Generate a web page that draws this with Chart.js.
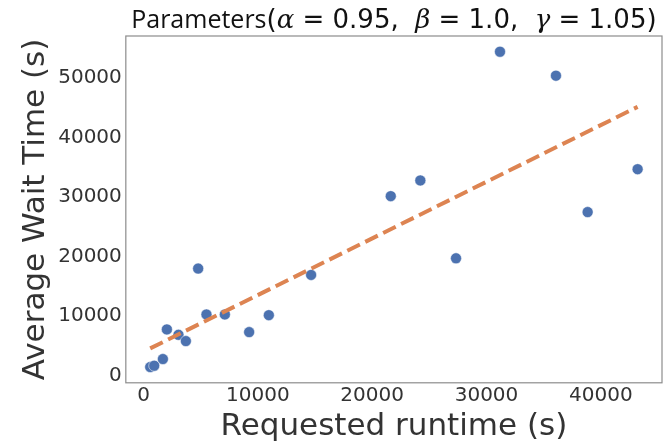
<!DOCTYPE html>
<html>
<head>
<meta charset="utf-8">
<script src="https://cdn.jsdelivr.net/npm/chart.js@4"></script>
<style>
  html, body { margin: 0; padding: 0; background: #fff; }
  #wrap { width: 664px; height: 447px; }
</style>
</head>
<body>
<div id="wrap"><canvas id="chart" width="664" height="447"></canvas></div>
<script>
// requested runtime (s) vs average wait time (s)
const runtime = [586, 935, 1696, 2045, 3059, 3706, 4781, 5507, 7115, 9240,
    10962, 14659, 21626, 24213, 27334, 31180, 36075, 38846, 43217];
const waitTime = [1458, 1676, 2798, 7775, 6870, 5814, 17996, 10288, 10288, 7322,
    10171, 16924, 30161, 32792, 19722, 54407, 50385, 27480, 34685];

// fitted trend line end points
const fitX = [586, 43217];
const fitY = [4590, 45150];

const xTicks = [0, 10000, 20000, 30000, 40000];
const yTicks = [0, 10000, 20000, 30000, 40000, 50000];

const textColor = '#333333';
const axisFont = '"DejaVu Sans", sans-serif';

let framePlugin = {
    id: 'frame',
    beforeDatasetsDraw(chart) {
        let a = chart.chartArea;
        let ctx = chart.ctx;
        ctx.save();
        ctx.strokeStyle = '#8c8c8c';
        ctx.lineWidth = 1.2;
        ctx.strokeRect(a.left, a.top, a.right - a.left, a.bottom - a.top);
        ctx.restore();
    }
};

// title with plain and math parts
let titlePlugin = {
    id: 'mathTitle',
    afterDraw(chart) {
        let ctx = chart.ctx;
        let sans = '"Open Sans", sans-serif';
        let greek = 'italic 26px "DejaVu Serif", serif';
        let mathSans = '26px "DejaVu Sans", sans-serif';
        let parts = [
            {t: 'Parameters', f: '25px ' + sans},
            {t: '(', f: mathSans},
            {t: 'α', f: greek},
            {t: ' = 0.95,  ', f: mathSans},
            {t: 'β', f: greek},
            {t: ' = 1.0,  ', f: mathSans},
            {t: 'γ', f: greek},
            {t: ' = 1.05', f: mathSans},
            {t: ')', f: mathSans}
        ];
        ctx.save();
        let total = 0;
        parts.forEach(p => {
            ctx.font = p.f;
            p.w = ctx.measureText(p.t).width;
            total += p.w;
        });
        let a = chart.chartArea;
        let x = (a.left + a.right) / 2 - total / 2;
        ctx.fillStyle = '#111111';
        ctx.textBaseline = 'alphabetic';
        parts.forEach(p => {
            ctx.font = p.f;
            ctx.fillText(p.t, x, 28);
            x += p.w;
        });
        ctx.restore();
    }
};

new Chart(document.getElementById('chart'), {
    type: 'scatter',
    data: {
        datasets: [
            {
                label: 'fit',
                type: 'line',
                data: fitX.map((x, i) => ({x: x, y: fitY[i]})),
                borderColor: '#dd8452',
                borderWidth: 4,
                borderDash: [14, 6],
                pointRadius: 0,
                fill: false
            },
            {
                label: 'wait',
                data: runtime.map((x, i) => ({x: x, y: waitTime[i]})),
                backgroundColor: '#4c72b0',
                borderColor: '#ffffff',
                borderWidth: 0.5,
                pointRadius: 5.5
            }
        ]
    },
    options: {
        responsive: false,
        animation: false,
        layout: {autoPadding: false, padding: {top: 36, right: 2, left: 17, bottom: 0}},
        plugins: {
            legend: {display: false},
            tooltip: {enabled: false},
            title: {display: false}
        },
        scales: {
            x: {
                type: 'linear',
                min: -1546,
                max: 45349,
                afterBuildTicks: axis => {
                    axis.ticks = xTicks.map(v => ({value: v}));
                },
                grid: {display: false, drawTicks: false},
                border: {display: false},
                ticks: {
                    color: textColor,
                    padding: 1,
                    maxRotation: 0,
                    callback: v => String(v),
                    font: {family: axisFont, size: 20}
                },
                title: {
                    display: true,
                    text: 'Requested runtime (s)',
                    color: textColor,
                    padding: {top: 0, bottom: 1},
                    font: {family: axisFont, size: 31}
                }
            },
            y: {
                min: -1189,
                max: 57054,
                afterBuildTicks: axis => {
                    axis.ticks = yTicks.map(v => ({value: v}));
                },
                grid: {display: false, drawTicks: false},
                border: {display: false},
                ticks: {
                    color: textColor,
                    padding: 4,
                    callback: v => String(v),
                    font: {family: axisFont, size: 20}
                },
                title: {
                    display: true,
                    text: 'Average Wait Time (s)',
                    color: textColor,
                    padding: {top: 0, bottom: 0},
                    font: {family: axisFont, size: 31}
                }
            }
        }
    },
    plugins: [framePlugin, titlePlugin]
});
</script>
</body>
</html>
